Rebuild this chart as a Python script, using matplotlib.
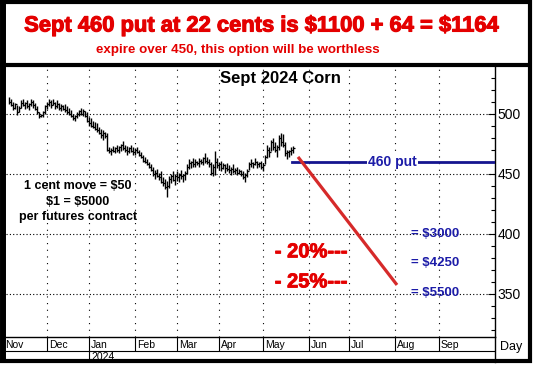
# Sept 2024 corn futures with the 460 put annotated

import numpy as np
import matplotlib
matplotlib.use('Agg')
import matplotlib.pyplot as plt
import matplotlib.patheffects as pe
from matplotlib.ticker import MultipleLocator

W, H = 535, 367

months = ['Nov', 'Dec', 'Jan', 'Feb', 'Mar', 'Apr', 'May', 'Jun', 'Jul', 'Aug', 'Sep']
month_days = [22, 21, 23, 21, 21, 22, 23, 20, 23, 22, 21]   # weekday slots per month
year_label = '2024'

# daily bars, one per weekday slot starting at slot 3 (early Nov 2023)
bar_start = 3
highs = [514, 512, 510, 509, 507, 506, 511, 512, 510, 511, 509, 512, 511, 509,
         506, 501, 500, 502, 507, 510, 512, 511, 512, 510, 511,
         509, 508, 507, 508, 506, 505, 503, 500, 499, 501, 503, 505, 504, 502,
         501, 497, 496, 494, 493, 492, 489, 487, 486, 485, 484,
         472, 471, 473, 472, 474, 473, 475, 477, 474, 473,
         472, 474, 472, 471, 472, 470, 468, 466, 464, 462, 460,
         458, 456, 453, 454, 451, 452, 447, 446, 444, 448, 450, 452, 450,
         452, 451, 453, 450, 452, 458, 462, 461, 463, 462, 461, 463, 462, 464,
         467, 464, 462, 460, 458, 469, 463, 460, 461, 459, 458,
         459, 457, 456, 458, 455, 456, 454, 453, 452, 451, 454,
         460, 462, 460, 463, 461, 460, 461, 459, 466, 474, 472,
         478, 480, 476, 474, 482, 484, 483, 476, 470, 470, 472, 473]
lows = [508, 506, 503, 504, 499, 501, 505, 506, 504, 505, 503, 506, 505, 503,
        500, 496, 497, 497, 500, 504, 506, 505, 507, 504, 505,
        503, 502, 503, 501, 500, 499, 497, 495, 494, 496, 498, 499, 498, 497,
        493, 490, 489, 488, 486, 485, 483, 480, 478, 480, 469,
        467, 466, 468, 467, 468, 467, 469, 470, 468, 466,
        467, 468, 466, 466, 467, 465, 463, 460, 459, 457, 455,
        452, 448, 446, 447, 445, 442, 440, 437, 431, 438, 442, 444, 441,
        444, 443, 446, 443, 445, 450, 454, 455, 456, 456, 457, 456, 458, 457,
        459, 458, 456, 449, 448, 449, 455, 453, 452, 454, 451,
        452, 451, 449, 451, 450, 449, 450, 448, 446, 443, 447,
        453, 456, 455, 457, 455, 456, 454, 452, 458, 463, 464,
        469, 470, 468, 464, 470, 473, 472, 465, 462, 464, 466, 467]
closes = [510, 507, 505, 508, 501, 505, 509, 507, 509, 506, 508, 510, 507, 504,
          501, 498, 499, 501, 506, 508, 510, 507, 509, 506, 508,
          505, 506, 504, 503, 501, 500, 498, 496, 498, 500, 502, 500, 502, 498,
          494, 492, 490, 489, 487, 486, 484, 482, 484, 481, 470,
          469, 470, 469, 471, 470, 472, 474, 471, 470, 469,
          471, 469, 468, 470, 468, 466, 464, 461, 460, 458, 456,
          453, 450, 451, 448, 447, 443, 442, 439, 440, 446, 448, 445, 448,
          447, 449, 448, 449, 451, 456, 459, 460, 458, 460, 459, 461, 460, 463,
          461, 460, 458, 451, 456, 460, 457, 458, 455, 457, 455,
          454, 453, 454, 452, 453, 451, 452, 450, 447, 449, 452,
          458, 459, 458, 460, 458, 459, 456, 457, 464, 470, 468,
          476, 472, 470, 472, 480, 476, 474, 467, 468, 469, 470, 471]

put_strike = 460
put_x = [144.5, 246]
proj_x = [147.5, 197]
proj_y = [464, 357.5]

cost_labels = ['= $3000', '= $4250', '= $5500']
cost_prices = [400, 376, 351]
pct_labels = ['- 20%---', '- 25%---']
pct_prices = [385, 360]
note_lines = ['1 cent move = $50', '$1 = $5000', 'per futures contract']
note_prices = [440, 426.5, 414]

RED = '#e40000'
BLUE = '#1c1ca8'
NAVY = '#15158f'

plt.rcParams['font.family'] = ['Liberation Sans', 'DejaVu Sans']
plt.rcParams['text.parse_math'] = False


def box(x0, y0, x1, y1):
  return [x0 / W, 1 - y1 / H, (x1 - x0) / W, (y1 - y0) / H]


fig = plt.figure(figsize=(W / 100, H / 100), dpi=100)
fig.patch.set_facecolor('white')

bounds = np.concatenate([[0], np.cumsum(month_days)])
xmin, xmax = 1.5, 246

# price panel
ax = fig.add_axes(box(6, 66.5, 495, 337))
ax.set_xlim(xmin, xmax)
ax.set_ylim(314.2, 539.2)
for s in ['left', 'top', 'bottom']:
  ax.spines[s].set_visible(False)
ax.spines['right'].set_linewidth(1)
ax.yaxis.tick_right()
ax.set_yticks([350, 400, 450, 500])
ax.yaxis.set_minor_locator(MultipleLocator(10))
ax.tick_params(axis='y', which='major', direction='in', length=5, width=0.8, labelsize=10, pad=2)
ax.tick_params(axis='y', which='minor', direction='in', length=3, width=0.8)
ax.set_xticks([])

for yv in [350, 400, 450, 500]:
  ax.axhline(yv, color='black', lw=0.8, ls=(0, (1, 2)), zorder=1)
for b in bounds[1:-1]:
  ax.axvline(b, color='black', lw=0.8, ls=(0, (1, 5)), zorder=1)

xs = bar_start + np.arange(len(highs))
ax.vlines(xs, lows, highs, color='black', lw=1.0, zorder=3)
ax.hlines(closes, xs, xs + 0.8, color='black', lw=0.9, zorder=3)

ax.plot(put_x, [put_strike, put_strike], color=NAVY, lw=2, zorder=4)
ax.text(194.75, put_strike, '460 put', color=BLUE, fontsize=10, fontweight='bold',
        ha='center', va='center', zorder=5,
        bbox=dict(facecolor='white', edgecolor='none', pad=0.5))
ax.plot(proj_x, proj_y, color='#d62a2a', lw=2.3, solid_capstyle='butt', zorder=4)

for lab, p in zip(cost_labels, cost_prices):
  ax.text(216, p, lab, color=BLUE, fontsize=9.5, fontweight='bold', ha='center', va='center', zorder=5)
for lab, p in zip(pct_labels, pct_prices):
  ax.text(154, p, lab, color=RED, fontsize=14.5, fontweight='bold', ha='center', va='center', zorder=5,
          path_effects=[pe.withStroke(linewidth=0.6, foreground=RED)])
for lab, p in zip(note_lines, note_prices):
  ax.text(37.5, p, lab, color='black', fontsize=9, fontweight='bold', ha='center', va='center', zorder=5)

ax.text(138.5, 529, 'Sept 2024 Corn', color='black', fontsize=12, fontweight='bold',
        ha='center', va='center', zorder=5)

# month strip
axm = fig.add_axes(box(6, 337, 495, 362))
axm.set_xlim(xmin, xmax)
axm.set_ylim(362, 337)
axm.set_xticks([])
axm.set_yticks([])
for s in ['left', 'bottom']:
  axm.spines[s].set_visible(False)
axm.spines['top'].set_linewidth(1)
axm.spines['right'].set_linewidth(1)
axm.vlines(bounds[1:-1], 337, 351, color='black', lw=0.8)
axm.axhline(351, color='black', lw=0.8)
axm.vlines(bounds[2], 351, 362, color='black', lw=0.8)
for m, b in zip(months, bounds[:-1]):
  axm.text(b + 1, 344.5, m, fontsize=7.5, ha='left', va='center', clip_on=True)
axm.text(bounds[2] + 1, 357, year_label, fontsize=7.5, ha='left', va='center')

# frame, headings
bg = fig.add_axes([0, 0, 1, 1], zorder=10)
bg.set_xlim(0, W)
bg.set_ylim(H, 0)
bg.axis('off')
bg.patch.set_visible(False)
bg.plot([3, 3], [0, 363], color='black', lw=4.3, solid_capstyle='butt')
bg.plot([0, 532], [2, 2], color='black', lw=3, solid_capstyle='butt')
bg.plot([530, 530], [0, 363], color='black', lw=3, solid_capstyle='butt')
bg.plot([0, 532], [361, 361], color='black', lw=3, solid_capstyle='butt')
bg.plot([0, 532], [64.5, 64.5], color='black', lw=3, solid_capstyle='butt')

bg.text(262, 26, 'Sept 460 put at 22 cents is $1100 + 64 = $1164', color=RED,
        fontsize=15.8, fontweight='bold', ha='center', va='center',
        path_effects=[pe.withStroke(linewidth=0.8, foreground=RED)])
bg.text(237.5, 49.5, 'expire over 450, this option will be worthless', color=RED,
        fontsize=9.6, fontweight='bold', ha='center', va='center')
bg.text(500, 347, 'Day', fontsize=9, ha='left', va='center')

fig.savefig('out.png', dpi=100)
